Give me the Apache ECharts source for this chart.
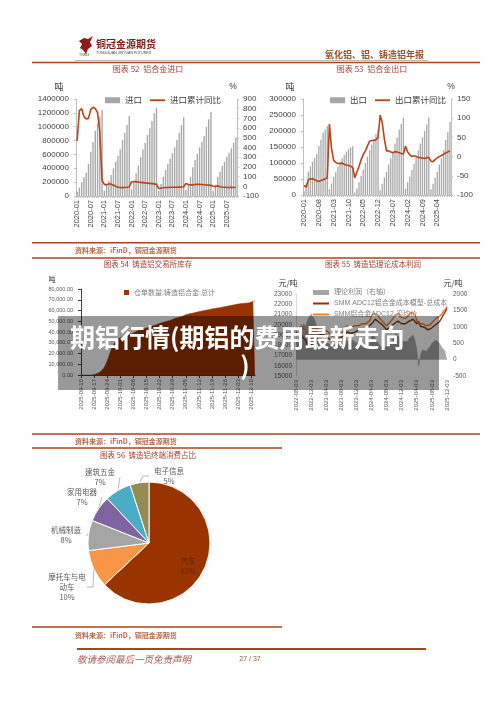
<!DOCTYPE html>
<html><head><meta charset="utf-8">
<script src="https://cdn.jsdelivr.net/npm/echarts@6/dist/echarts.min.js"></script>
<style>html,body{margin:0;padding:0;background:#fff}#c{width:500px;height:706px}</style>
</head><body><div id="c"></div>
<script>
const FONT = '"Liberation Sans","Noto Sans CJK SC",sans-serif';
const CJK = '"Noto Sans CJK SC",sans-serif';

function monthRange(y0,m0,y1,m1){const a=[];let y=y0,m=m0;while(y<y1||(y===y1&&m<=m1)){a.push(y+'-'+String(m).padStart(2,'0'));m++;if(m>12){m=1;y++;}}return a;}
function dayRange(start,n){const a=[];const d=new Date(start+'T00:00:00Z');for(let i=0;i<n;i++){const t=new Date(d.getTime()+i*86400000);a.push(t.toISOString().slice(0,10));}return a;}
function semiMonthRange(y0,m0,y1,m1){const a=[];monthRange(y0,m0,y1,m1).forEach(m=>{a.push(m+'-03');a.push(m+'-18');});a.pop();return a;}

// ---- Chart 52: 铝合金进口 ----
const months52 = monthRange(2020,1,2025,11);
const importVol = [
 62000,120000,200000,270000,336000,462000,640000,784000,943000,1049000,1145000,1241000,
 77000,159000,216000,303000,399000,495000,582000,673000,808000,914000,1024000,1154000,
 95000,210000,330000,440000,560000,670000,770000,880000,977000,1082000,1193000,1274000,
 77000,173000,279000,375000,462000,539000,616000,702000,808000,914000,1024000,1135000,
 87000,173000,279000,414000,519000,606000,702000,784000,866000,1000000,1107000,1217000,
 72000,159000,279000,351000,433000,495000,567000,625000,688000,769000,847000];
const importYoy = [
 470,780,800,720,695,700,790,815,800,760,560,60,
 20,15,25,22,10,0,-10,-12,-14,-12,-10,-5,
 45,50,48,42,40,38,35,33,30,28,25,20,
 -25,-18,-15,-12,-12,-10,-10,-10,-10,-8,-8,-5,
 30,18,15,15,18,20,20,18,16,14,12,10,
 0,-2,5,-5,-8,-10,-12,-12,-10,-12,-10];

// ---- Chart 53: 铝合金出口 ----
const months53 = monthRange(2020,1,2025,10);
const exportVol = [
 12000,35000,73000,90000,104000,115000,128000,153000,172000,195000,205000,215000,
 18000,36000,57000,73000,88000,104000,115000,125000,135000,143000,149000,152000,
 8000,20000,40000,60000,80000,100000,120000,140000,158000,175000,190000,205000,
 15000,35000,55000,72000,95000,115000,135000,160000,180000,205000,222000,242000,
 20000,40000,58000,78000,98000,118000,140000,160000,180000,200000,220000,242000,
 18000,35000,55000,72000,95000,115000,140000,172000,196000,228000];
const exportYoy = [
 -75,-80,-60,-58,-58,-60,-63,-65,-62,-60,-58,-55,
 85,20,-10,-15,-18,-18,-17,-20,-22,-23,-25,-28,
 -55,-40,-25,-8,5,15,28,40,42,42,44,50,
 108,88,45,15,15,12,10,13,12,10,8,7,
 27,12,5,0,2,0,-2,-3,-4,-5,-3,-2,
 -12,-13,-8,-3,0,3,6,10,12,15];

// ---- Chart 54: 铸造铝交易所库存 ----
const days54 = dayRange('2025-09-10',94);
const stock54 = [
 0,0,0,0,0,0,0,
 500,1000,1500,2500,4000,6000,9000,
 13000,18000,23000,27000,30000,32000,34000,
 35000,35500,36000,36500,37000,37500,38000,
 39000,40000,41000,41500,42000,42500,43000,
 44000,44500,45000,45500,46000,46500,47000,
 48000,48500,49000,49500,50000,50500,51000,
 52000,52500,53000,53500,54000,54500,55000,
 56000,56500,57000,57300,57600,58000,58500,
 59000,59300,59600,60000,60300,60600,61000,
 61500,61800,62000,62300,62600,63000,63300,
 63600,64000,64300,64600,65000,65300,65600,
 66000,66200,66400,66600,66800,67000,67300,
 68000,68500,69000];

// ---- Chart 55: 铸造铝理论成本利润 ----
const dates55 = semiMonthRange(2022,8,2025,12);
const price55 = [
 19800,19600,19700,19900,19800,19500,19300,19400,19500,19300,
 19400,19600,19700,19800,19700,19500,19400,19300,19100,18900,
 18900,19000,19100,19000,19200,19400,19700,19900,19800,19700,
 19800,19900,19900,19900,20000,20100,20000,20100,20200,20400,
 20800,21100,21200,21000,20700,20500,20300,20100,19900,20100,
 20300,20500,20800,20900,21100,20900,20700,20600,20600,20800,
 21000,21200,21300,21000,20400,20100,20000,20100,20100,19900,
 19800,20000,20200,20400,20600,20700,20800,21000,21300,21500,
 21800];
const cost55 = [
 19300,19000,19000,19000,18700,18500,18100,18100,18100,17950,
 18200,18600,18900,19100,19100,19000,18950,18800,18550,18500,
 18550,18550,18600,18550,18800,18900,19050,19300,19300,19150,
 19200,19250,19400,19450,19450,19500,19500,19650,19800,19900,
 20100,20300,20550,20450,20250,20100,19950,19800,19500,19650,
 19800,19900,20100,20100,20350,20250,20100,20050,20100,20250,
 20350,20500,20550,20400,20100,20300,19850,19800,19750,19650,
 19500,19600,19700,19850,20000,20150,20300,20600,20950,21250,
 21600];
const profit55 = [
 500,600,700,900,1100,1000,1200,1300,1400,1350,
 1200,1000,800,700,600,500,450,500,550,400,
 350,450,500,450,400,500,650,600,500,550,
 600,650,500,450,550,600,500,450,400,500,
 700,800,650,550,450,400,350,300,400,450,
 500,600,700,800,750,650,600,550,500,550,
 650,700,750,600,300,-200,150,300,350,250,
 300,400,500,550,600,550,500,400,350,250,
 200];

// ---- Chart 56: 铸造铝终端消费占比 ----
const pieNames = ['汽车','摩托车与电动车','机械制造','家用电器','建筑五金','电子信息'];
const pieValues = [63,10,8,7,7,5];
const pieColors = ['#993300','#F79646','#A5A5A5','#8064A2','#4BACC6','#948A54'];
const pieLabelPos = [[188,566],[67,587],[66,535],[82,497],[100,477],[169,476]];

const BROWN = '#a5461c';
const LINE = '#b5451b';
const LINE_ICON = 'path://M0,0 L40,0 L40,5 L0,5 Z';
const plain = v => String(v);
const axisLbl = (fs,color)=>({fontSize:fs,color:color||'#404040',fontFamily:FONT});

function txt(text,x,y,o){o=o||{};return {type:'text',x:x,y:y,z:o.z||10,style:{text:text,fill:o.fill||'#333',font:o.font||('8px '+CJK),textAlign:o.align||'left',textVerticalAlign:'middle'}};}
function ln(x1,y1,x2,y2,c,w){return {type:'line',z:5,shape:{x1:x1,y1:y1,x2:x2,y2:y2},style:{stroke:c,lineWidth:w}};}

const graphics = [
 // header
 {type:'polygon',z:10,shape:{points:[[79,41],[84,38],[88,39],[93,36],[90,42],[92,46],[88,49],[86,54],[83,50],[80,48],[82,44]]},style:{fill:'#8e1b1b'}},
 txt('TNMG',79,55,{font:'3.5px '+FONT,fill:'#555'}),
 txt('铜冠金源期货',96,44,{font:'bold 10px '+CJK,fill:'#7a1a1a'}),
 txt('TONGGUAN JINYUAN FUTURES',96,53,{font:'3.6px '+FONT,fill:'#444'}),
 txt('氧化铝、铝、铸造铝年报',325,55,{font:'bold 9px '+CJK,fill:'#94502a'}),
 ln(75,60.5,428,60.5,'#b8b8b8',1),
 ln(32,62.5,480,62.5,BROWN,1.6),
 // titles
 txt('图表 52  铝合金进口',148,69,{font:'8px '+CJK,fill:'#9e3f2f',align:'center'}),
 txt('图表 53  铝合金出口',372,69,{font:'8px '+CJK,fill:'#9e3f2f',align:'center'}),
 txt('图表 54  铸造铝交易所库存',148,264,{font:'7.5px '+CJK,fill:'#9e3f2f',align:'center'}),
 txt('图表 55  铸造铝理论成本利润',373,264,{font:'7.5px '+CJK,fill:'#9e3f2f',align:'center'}),
 txt('图表 56  铸造铝终端消费占比',148,455,{font:'7.5px '+CJK,fill:'#9e3f2f',align:'center'}),
 // units
 txt('吨',59,87,{font:'9px '+CJK,fill:'#333',align:'center'}),
 txt('%',233,87,{font:'8.5px '+FONT,fill:'#333',align:'center'}),
 txt('吨',290,87,{font:'9px '+CJK,fill:'#333',align:'center'}),
 txt('%',451,87,{font:'8.5px '+FONT,fill:'#333',align:'center'}),
 txt('吨',52,279,{font:'7px '+CJK,fill:'#333',align:'center'}),
 txt('元/吨',288,283,{font:'8px '+CJK,fill:'#333',align:'center'}),
 txt('元/吨',453,283,{font:'8px '+CJK,fill:'#333',align:'center'}),
 // section lines & sources
 ln(32,242.7,480,242.7,BROWN,1.4),
 txt('资料来源：iFinD，铜冠金源期货',75,250,{font:'bold 7px '+CJK,fill:'#b36a4a'}),
 ln(32,258,480,258,BROWN,1.4),
 ln(32,434,480,434,BROWN,1.4),
 txt('资料来源：iFinD，铜冠金源期货',75,441,{font:'bold 7px '+CJK,fill:'#b36a4a'}),
 ln(32,448,282,448,BROWN,1.4),
 ln(32,627,282,627,BROWN,1.4),
 txt('资料来源：iFinD，铜冠金源期货',75,635,{font:'bold 7px '+CJK,fill:'#b36a4a'}),
 // footer
 ln(77,649,426,649,BROWN,2),
 txt('敬请参阅最后一页免责声明',77,659,{font:'italic 9.5px '+CJK,fill:'#a0605a'}),
 txt('27 / 37',250,659,{font:'7px '+FONT,fill:'#8b5a3a',align:'center'}),
 // overlay
 {type:'rect',z:100,shape:{x:58,y:316,width:381,height:74},style:{fill:'rgba(0,0,0,0.4)'}},
 txt('期铝行情(期铝的费用最新走向',70,337,{font:'bold 25px '+CJK,fill:'#fff',z:101}),
 txt(')',245,365,{font:'bold 25px '+CJK,fill:'#fff',align:'center',z:101})
];

const chart = echarts.init(document.getElementById('c'),null,{renderer:'canvas'});
chart.setOption({
 animation:false,
 backgroundColor:'#fff',
 textStyle:{fontFamily:FONT},
 grid:[
  {left:76,top:99,width:161,height:97},
  {left:303,top:99,width:148,height:96},
  {left:81,top:289,width:174,height:86},
  {left:296,top:294,width:151,height:82}
 ],
 legend:[
  {left:100,top:91,itemWidth:15,itemHeight:6,itemGap:8,textStyle:{fontSize:8.5,color:'#404040',fontFamily:CJK},
   data:[{name:'进口',icon:'rect'},{name:'进口累计同比',icon:LINE_ICON}]},
  {left:325,top:91,itemWidth:15,itemHeight:6,itemGap:8,textStyle:{fontSize:8.5,color:'#404040',fontFamily:CJK},
   data:[{name:'出口',icon:'rect'},{name:'出口累计同比',icon:LINE_ICON}]},
  {left:119,top:284,itemWidth:5,itemHeight:5,itemGap:4,textStyle:{fontSize:7,color:'#7f7f7f',fontFamily:CJK},
   data:[{name:'仓单数量:铸造铝合金:总计',icon:'rect'}]},
  {left:308,top:284,orient:'vertical',itemWidth:16,itemHeight:5,itemGap:4,textStyle:{fontSize:7,color:'#7f7f7f',fontFamily:FONT},
   data:[{name:'理论利润（右轴）',icon:'rect'},{name:'SMM ADC12铝合金成本模型-总成本',icon:LINE_ICON},{name:'SMM铝合金ADC12-平均价',icon:LINE_ICON}]}
 ],
 xAxis:[
  {gridIndex:0,type:'category',data:months52,axisLabel:Object.assign(axisLbl(7.5),{rotate:90,interval:5,margin:4}),
   axisTick:{show:true,interval:0,length:2,lineStyle:{color:'#bfbfbf'}},axisLine:{lineStyle:{color:'#bfbfbf'}}},
  {gridIndex:1,type:'category',data:months53,axisLabel:Object.assign(axisLbl(7.5),{rotate:90,interval:6,margin:4}),
   axisTick:{show:true,interval:0,length:2,lineStyle:{color:'#bfbfbf'}},axisLine:{lineStyle:{color:'#bfbfbf'}}},
  {gridIndex:2,type:'category',data:days54,boundaryGap:false,axisLabel:Object.assign(axisLbl(6,'#595959'),{rotate:90,interval:6,margin:4}),
   axisTick:{show:true,interval:6,length:3,lineStyle:{color:'#404040'}},axisLine:{lineStyle:{color:'#404040'}}},
  {gridIndex:3,type:'category',data:dates55,boundaryGap:false,axisLabel:Object.assign(axisLbl(6,'#595959'),{rotate:90,interval:7,margin:4}),
   axisTick:{show:false},axisLine:{lineStyle:{color:'#d9d9d9'}}}
 ],
 yAxis:[
  {gridIndex:0,type:'value',min:0,max:1400000,interval:200000,axisLabel:Object.assign(axisLbl(8),{margin:7,formatter:plain}),
   axisLine:{show:true,lineStyle:{color:'#bfbfbf'}},axisTick:{show:true,length:2,lineStyle:{color:'#bfbfbf'}},splitLine:{show:false}},
  {gridIndex:0,type:'value',position:'right',min:-100,max:900,interval:100,axisLabel:Object.assign(axisLbl(8),{margin:6,formatter:plain}),
   axisLine:{show:true,lineStyle:{color:'#bfbfbf'}},axisTick:{show:true,length:2,lineStyle:{color:'#bfbfbf'}},splitLine:{show:false}},
  {gridIndex:1,type:'value',min:0,max:300000,interval:50000,axisLabel:Object.assign(axisLbl(8),{margin:7,formatter:plain}),
   axisLine:{show:true,lineStyle:{color:'#bfbfbf'}},axisTick:{show:true,length:2,lineStyle:{color:'#bfbfbf'}},splitLine:{show:false}},
  {gridIndex:1,type:'value',position:'right',min:-100,max:150,interval:50,axisLabel:Object.assign(axisLbl(8),{margin:6,formatter:plain}),
   axisLine:{show:true,lineStyle:{color:'#bfbfbf'}},axisTick:{show:true,length:2,lineStyle:{color:'#bfbfbf'}},splitLine:{show:false}},
  {gridIndex:2,type:'value',min:0,max:80000,interval:10000,
   axisLabel:Object.assign(axisLbl(5.5,'#595959'),{margin:8,formatter:v=>v.toLocaleString('en-US',{minimumFractionDigits:2,maximumFractionDigits:2})}),
   axisLine:{show:true,lineStyle:{color:'#404040'}},axisTick:{show:true,length:3,lineStyle:{color:'#404040'}},splitLine:{show:false}},
  {gridIndex:3,type:'value',min:15000,max:23000,interval:1000,axisLabel:Object.assign(axisLbl(6.5,'#595959'),{margin:4,formatter:plain}),
   axisLine:{show:true,lineStyle:{color:'#d9d9d9'}},axisTick:{show:false},splitLine:{show:false}},
  {gridIndex:3,type:'value',position:'right',min:-500,max:2000,interval:500,axisLabel:Object.assign(axisLbl(6.5,'#595959'),{margin:6,formatter:plain}),
   axisLine:{show:false},axisTick:{show:false},splitLine:{show:false}}
 ],
 series:[
  {name:'进口',type:'bar',xAxisIndex:0,yAxisIndex:0,data:importVol,barCategoryGap:'40%',itemStyle:{color:'#a6a6a6'}},
  {name:'进口累计同比',type:'line',xAxisIndex:0,yAxisIndex:1,data:importYoy,symbol:'none',lineStyle:{color:LINE,width:1.6},itemStyle:{color:LINE}},
  {name:'出口',type:'bar',xAxisIndex:1,yAxisIndex:2,data:exportVol,barCategoryGap:'40%',itemStyle:{color:'#a6a6a6'}},
  {name:'出口累计同比',type:'line',xAxisIndex:1,yAxisIndex:3,data:exportYoy,symbol:'none',lineStyle:{color:LINE,width:1.6},itemStyle:{color:LINE}},
  {name:'仓单数量:铸造铝合金:总计',type:'line',xAxisIndex:2,yAxisIndex:4,data:stock54,symbol:'none',
   lineStyle:{color:'#993300',width:0.5},itemStyle:{color:'#993300'},areaStyle:{color:'#993300',opacity:1}},
  {name:'理论利润（右轴）',type:'line',xAxisIndex:3,yAxisIndex:6,data:profit55,symbol:'none',
   lineStyle:{color:'#a6a6a6',width:0.5},itemStyle:{color:'#a6a6a6'},areaStyle:{color:'#a6a6a6',opacity:1}},
  {name:'SMM ADC12铝合金成本模型-总成本',type:'line',xAxisIndex:3,yAxisIndex:5,data:cost55,symbol:'none',
   lineStyle:{color:'#8b3305',width:1.4},itemStyle:{color:'#8b3305'}},
  {name:'SMM铝合金ADC12-平均价',type:'line',xAxisIndex:3,yAxisIndex:5,data:price55,symbol:'none',
   lineStyle:{color:'#f07c2c',width:1.4},itemStyle:{color:'#f07c2c'}},
  {type:'pie',center:[149,543],radius:61,startAngle:90,clockwise:true,
   itemStyle:{borderColor:'#fff',borderWidth:1},
   label:{fontSize:7.5,lineHeight:10,color:'#595959',fontFamily:CJK,width:40,overflow:'break',
     formatter:p=>p.name+'\n'+p.value+'%'},
   labelLine:{show:true,length:6,length2:6,lineStyle:{color:'#a6a6a6',width:0.8}},
   labelLayout:p=>({x:pieLabelPos[p.dataIndex][0],y:pieLabelPos[p.dataIndex][1],align:'center',verticalAlign:'middle'}),
   data:pieNames.map((n,i)=>({name:n,value:pieValues[i],itemStyle:{color:pieColors[i]},
     label:i===0?{position:'inside',color:'#5a2208'}:undefined,labelLine:i===0?{show:false}:undefined}))}
 ],
 graphic:graphics
});
</script>
</body></html>
